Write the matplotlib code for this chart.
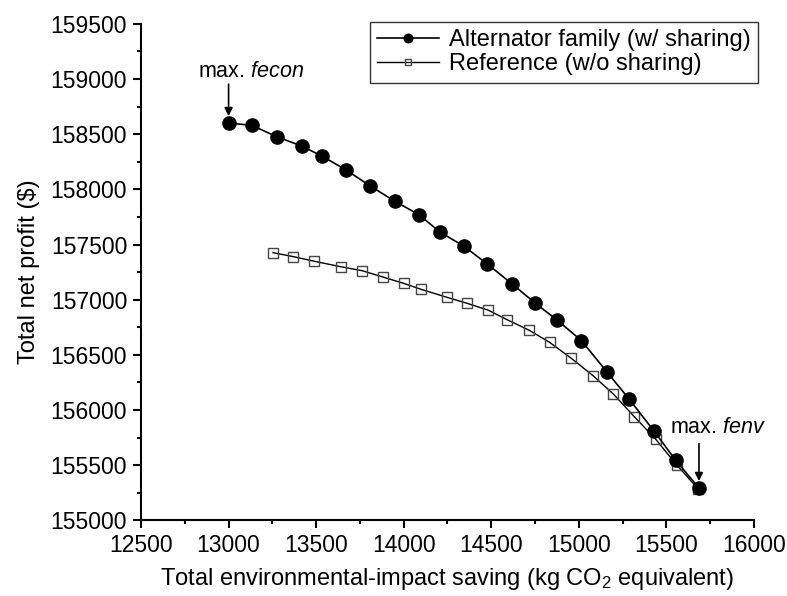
import matplotlib
matplotlib.use("Agg")
from matplotlib import pyplot as plt
from matplotlib.ticker import MultipleLocator

plt.rcParams['font.family'] = ['Liberation Sans', 'DejaVu Sans']
plt.rcParams['mathtext.fontset'] = 'custom'
plt.rcParams['mathtext.rm'] = 'Liberation Sans'
plt.rcParams['mathtext.it'] = 'Liberation Sans:italic'

# Alternator family (w/ sharing)
share_x = [13000, 13132, 13275, 13418, 13535, 13668, 13809, 13950, 14087, 14207, 14342,
           14476, 14621, 14748, 14878, 15015, 15161, 15288, 15429, 15553, 15686]
share_y = [158600, 158580, 158476, 158392, 158299, 158178, 158030, 157891, 157770, 157613, 157486,
           157325, 157140, 156973, 156813, 156629, 156345, 156098, 155811, 155545, 155294]

# Reference (w/o sharing)
ref_x = [13254, 13370, 13490, 13640, 13762, 13880, 14002, 14099, 14246, 14363, 14483,
         14590, 14717, 14833, 14957, 15081, 15197, 15317, 15439, 15559, 15680]
ref_y = [157426, 157390, 157348, 157299, 157263, 157206, 157147, 157094, 157022, 156967, 156905,
         156819, 156723, 156614, 156469, 156312, 156146, 155940, 155736, 155503, 155288]

fig = plt.figure(figsize=(7.87, 5.96), dpi=100)
ax = fig.add_axes([0.1792, 0.1267, 0.7788, 0.8335])

l1, = ax.plot(share_x, share_y, color='black', lw=1.2, marker='o', ms=9.5,
              mfc='black', mec='black', zorder=3, label='Alternator family (w/ sharing)')
l2, = ax.plot(ref_x, ref_y, color='black', lw=1.0, marker='s', ms=7.5,
              mfc='none', mec='#444444', mew=1.0, zorder=2, label='Reference (w/o sharing)')

ax.set_xlim(12500, 16000)
ax.set_ylim(155000, 159500)
ax.xaxis.set_major_locator(MultipleLocator(500))
ax.xaxis.set_minor_locator(MultipleLocator(250))
ax.yaxis.set_major_locator(MultipleLocator(500))
ax.yaxis.set_minor_locator(MultipleLocator(250))

for s in ['top', 'right']:
    ax.spines[s].set_visible(False)
for s in ['left', 'bottom']:
    ax.spines[s].set_linewidth(1.5)
ax.tick_params(which='major', direction='out', length=6, width=1.5, labelsize=16.5, pad=4)
ax.tick_params(which='minor', direction='out', length=3.2, width=1.5)

ax.set_xlabel('Total environmental-impact saving (kg CO$_2$ equivalent)', fontsize=17, labelpad=6)
ax.set_ylabel('Total net profit ($)', fontsize=17, labelpad=8)

# annotations for the two extreme points
arrow = dict(arrowstyle='-|>', color='black', lw=1.2, mutation_scale=12, shrinkA=0, shrinkB=5)
ax.annotate('', xy=(share_x[0], share_y[0]), xytext=(0, 28), textcoords='offset points',
            arrowprops=arrow, annotation_clip=False)
ax.annotate('', xy=(share_x[-1], share_y[-1]), xytext=(0, 32), textcoords='offset points',
            arrowprops=arrow, annotation_clip=False)
ax.annotate('max. $fecon$', xy=(share_x[0], share_y[0]), xytext=(-22.3, 33),
            textcoords='offset points', ha='left', va='baseline', fontsize=15.5)
ax.annotate('max. $fenv$', xy=(share_x[-1], share_y[-1]), xytext=(-20.9, 39.6),
            textcoords='offset points', ha='left', va='baseline', fontsize=15.5)

leg = ax.legend(handles=[l1, l2], loc='upper right', bbox_to_anchor=(758 / 787, 1 - 22 / 596),
                bbox_transform=fig.transFigure, borderaxespad=0, fontsize=17,
                markerscale=0.65, handlelength=2.6, handletextpad=0.45,
                labelspacing=0.1, borderpad=0.3, fancybox=False, framealpha=1)
leg.get_frame().set_edgecolor('#333333')
leg.get_frame().set_linewidth(1.0)

fig.savefig('out.png', dpi=100)
